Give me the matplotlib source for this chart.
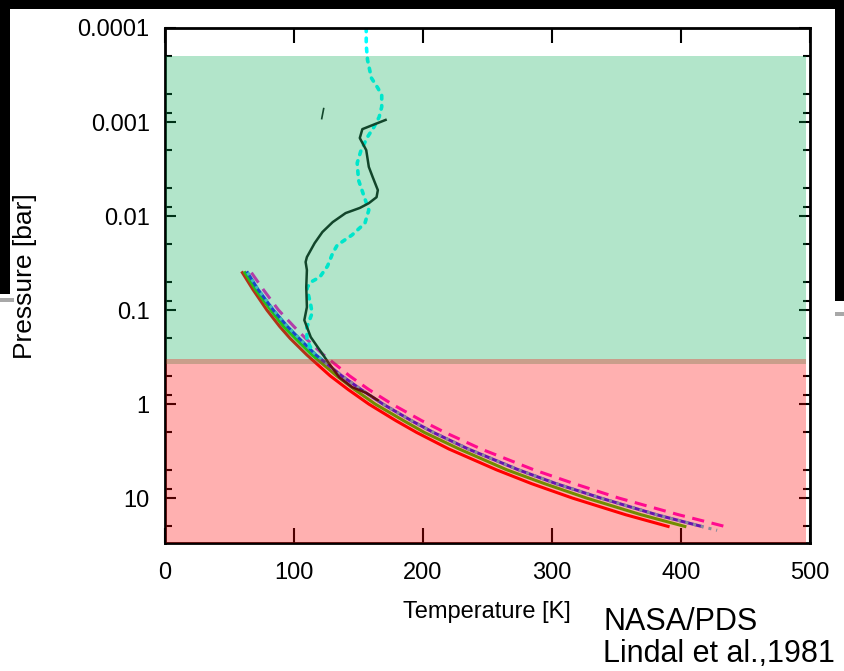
import matplotlib
matplotlib.use("Agg")
import matplotlib.pyplot as plt
from matplotlib.patches import Rectangle
from matplotlib.ticker import LogLocator, NullFormatter

plt.rcParams['font.family'] = ['Liberation Sans', 'DejaVu Sans']

# model adiabats: pressure [bar] vs temperature [K]
p_model = [0.04, 0.06, 0.1, 0.15, 0.2, 0.3, 0.5, 0.7, 1, 1.5, 2, 3, 5, 7, 10, 15, 20]
t_red = [60, 68, 79, 89, 97, 110, 128, 142, 158, 179, 195, 220, 257, 284, 316, 357, 390]
t_green = [62, 70, 82, 92, 101, 114, 133, 147, 163, 185, 201, 228, 265, 294, 327, 369, 403]
t_blue = [64, 72, 84, 95, 104, 117, 137, 152, 169, 191, 208, 235, 274, 303, 338, 381, 416]
t_magenta = [67, 76, 88, 100, 109, 123, 143, 158, 176, 199, 217, 245, 286, 317, 352, 398, 434]
p_cyan_model = p_model + [22]
t_cyan_model = t_blue + [428]

# radio occultation profile (ingress)
p_occ = [9.5e-4, 1.19e-3, 1.48e-3, 1.99e-3, 3.0e-3, 3.85e-3, 5.3e-3, 6.3e-3, 7.3e-3,
         8.2e-3, 9.3e-3, 0.0116, 0.0148, 0.0194, 0.0273, 0.0308, 0.0375, 0.0569,
         0.093, 0.128, 0.194, 0.267, 0.367, 0.516, 0.66, 0.76, 0.91]
t_occ = [171, 153, 151, 156, 158, 161, 165, 164, 158, 151, 140, 130, 122, 116, 110,
         109, 110, 109.5, 110, 108, 113, 120, 127, 135, 145, 156, 165]
p_stray = [7.2e-4, 9.2e-4]
t_stray = [123, 121.5]

# radio occultation profile (egress)
p_egr = [1e-4, 1.52e-4, 2.19e-4, 3.4e-4, 4.35e-4, 5.2e-4, 6.9e-4, 8.85e-4, 1.13e-3,
         1.44e-3, 1.99e-3, 2.73e-3, 4.14e-3, 6.28e-3, 8.63e-3, 0.0119, 0.0159, 0.0204,
         0.0248, 0.034, 0.0446, 0.0504, 0.0583, 0.0885, 0.108, 0.152, 0.209, 0.267]
t_egr = [156, 156, 157, 160, 165, 168, 168, 166, 162, 157, 152, 149, 150, 154.5, 158,
         155, 145, 133.5, 130, 126, 120, 113, 110, 113, 114, 110, 110, 114]

# layer boundaries [bar]
stratosphere = (2e-4, 0.37)
troposphere = (0.33, 30)

W, H = 844, 671
fig = plt.figure(figsize=(W / 100, H / 100), dpi=100)
ax = fig.add_axes([165 / W, 1 - 543 / H, 645 / W, 515 / H])

ax.plot(t_red, p_model, color='#ff0000', lw=2.2, zorder=2)
ax.plot(t_green, p_model, color='#33cc00', lw=2.2, zorder=2)
ax.plot(t_blue, p_model, color='#2020ff', lw=2.2, zorder=2)
ax.plot(t_cyan_model, p_cyan_model, color='#55c8e0', lw=2.2, ls=(0, (1, 1.6)), zorder=2)
ax.plot(t_magenta, p_model, color='#ff10d0', lw=2.2, ls=(0, (4, 2.5)), zorder=2)

ax.plot(t_egr, p_egr, color='#00ffff', lw=2.6, ls=(0, (1, 1.8)),
        dash_capstyle='round', zorder=2)
ax.plot(t_occ, p_occ, color='#1a1a1a', lw=1.8, zorder=2.2)
ax.plot(t_stray, p_stray, color='#1a1a1a', lw=1.2, zorder=2.2)

# translucent layer shading drawn over the curves
ax.fill_between([1, 497], *stratosphere, color=(0, 0.67, 0.32), alpha=0.3,
                lw=0, zorder=3)
ax.fill_between([1, 497], *troposphere, color=(1, 0, 0), alpha=0.31,
                lw=0, zorder=3)

ax.set_xlim(0, 500)
ax.set_yscale('log')
ax.set_ylim(30, 1e-4)
ax.set_xticks([0, 100, 200, 300, 400, 500])
ax.set_yticks([1e-4, 1e-3, 1e-2, 0.1, 1, 10],
              ['0.0001', '0.001', '0.01', '0.1', '1', '10'])
ax.yaxis.set_minor_locator(LogLocator(base=10, subs=(2, 5, 8)))
ax.yaxis.set_minor_formatter(NullFormatter())
ax.tick_params(axis='both', which='major', direction='in', top=True, right=True,
               labelsize=17, width=1.5)
ax.tick_params(axis='x', which='major', length=11, pad=14)
ax.tick_params(axis='y', which='major', length=8, pad=11)
ax.tick_params(axis='y', which='minor', direction='in', right=True, length=5, width=1.5)
for s in ax.spines.values():
    s.set_linewidth(2)

fig.text(487 / W, 1 - 612 / H, 'Temperature [K]', ha='center', va='center', fontsize=17)
fig.text(25 / W, 1 - 276 / H, 'Pressure [bar]', ha='center', va='center',
         rotation=90, fontsize=19)
fig.text(603 / W, 1 - 630 / H, 'NASA/PDS', ha='left', va='baseline', fontsize=22)
fig.text(603 / W, 1 - 662 / H, 'Lindal et al.,1981', ha='left', va='baseline', fontsize=22)

# slide frame around the chart
def px_rect(x0, y0, x1, y1, color):
    fig.add_artist(Rectangle((x0 / W, 1 - y1 / H), (x1 - x0) / W, (y1 - y0) / H,
                             transform=fig.transFigure, color=color, lw=0, zorder=5))

px_rect(0, 0, W, 9, 'black')
px_rect(0, 0, 10, 294, 'black')
px_rect(835, 0, W, 301, 'black')
px_rect(0, 298, 14, 302, '#a8a8a8')
px_rect(835, 312, W, 316, '#a8a8a8')

fig.savefig('out.png', dpi=100)
